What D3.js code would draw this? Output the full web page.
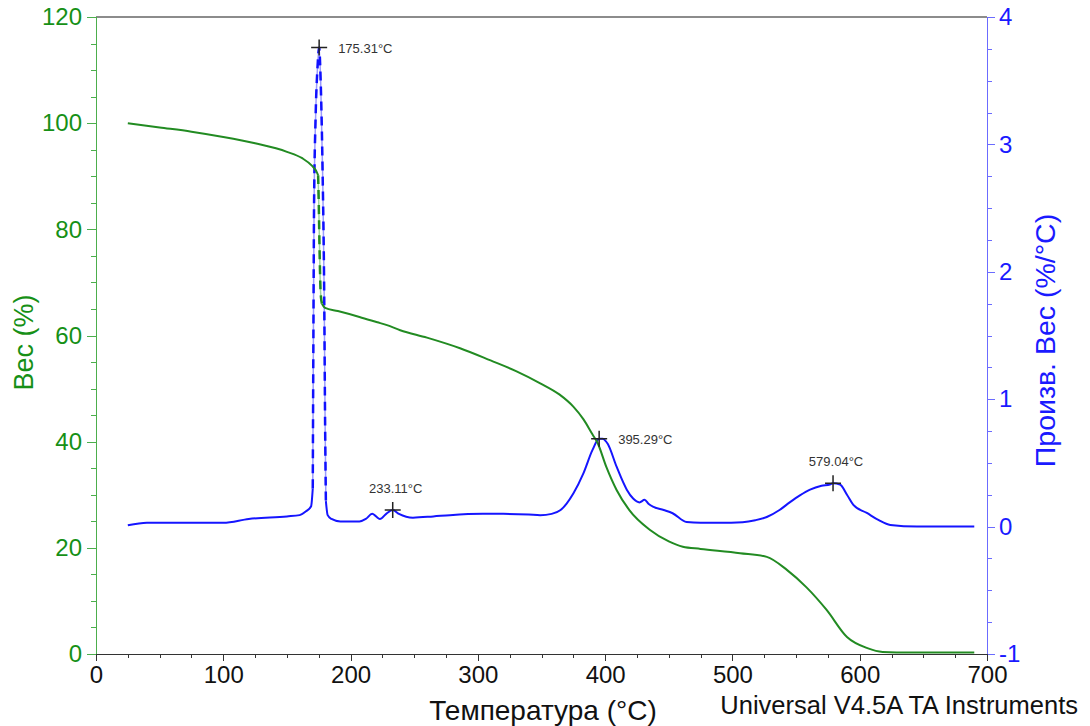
<!DOCTYPE html>
<meta charset="utf-8">
<style>
body { margin: 0; background: #fff; }
svg text { font-family: "Liberation Sans", Arial, sans-serif; }
.axis path, .axis line { fill: none; shape-rendering: crispEdges; }
.x.axis path, .x.axis line { stroke: #333; }
.yl.axis path, .yl.axis line { stroke: #4cae4c; }
.yr.axis path, .yr.axis line { stroke: #6b6bff; }
.x.axis text { fill: #111; font-size: 24px; }
.yl.axis text { fill: #169016; font-size: 24px; }
.yr.axis text { fill: #1a1aff; font-size: 24px; }
.peak text { font-size: 13px; fill: #333; }
</style>
<body>
<script src="https://d3js.org/d3.v7.min.js"></script>
<script>

// TGA curve (weight %)
var tgaTemp = [25, 50, 75, 100, 125, 150, 162, 170, 173, 174.5, 175, 175.5, 176, 176.5, 177.5, 180, 190, 207, 221, 228, 239, 260, 286, 310, 330, 349, 364, 375, 383, 390, 394, 401, 409, 419, 435, 450, 461, 475, 506, 527, 543, 558, 574, 590, 606, 618, 640, 690];
var tgaWeight = [100, 99.2, 98.4, 97.4, 96.2, 94.6, 93.4, 91.9, 91.0, 90.2, 85, 78, 72, 68, 66, 65.2, 64.6, 63.5, 62.5, 62, 61, 59.6, 57.6, 55.3, 53.3, 51.0, 48.9, 46.6, 44.2, 41.4, 39.8, 35.2, 30.9, 27.1, 23.4, 21.2, 20.2, 19.8, 19.0, 18.3, 15.8, 12.6, 8.3, 3.2, 1.1, 0.4, 0.3, 0.3];

// DTG curve (derivative weight %/°C)
var dtgTemp = [25, 40, 60, 100, 120, 150, 160, 165, 169, 170.3, 170.8, 171.3, 172.5, 174, 175.31, 176.5, 178, 179.3, 180, 180.6, 182, 185, 192, 207, 212, 217, 220, 223, 228, 233.11, 238, 249, 265, 278, 304, 320, 340, 349, 358, 365, 375, 383, 390, 395.29, 398, 402, 409, 417, 422, 427, 431, 434, 438, 446, 453, 464, 475, 490, 508, 518, 527, 537, 545, 553, 561, 570, 576.6, 579.04, 584.5, 590, 595, 605.6, 615, 624, 645, 690];
var dtgDeriv = [0.01, 0.03, 0.03, 0.03, 0.06, 0.08, 0.09, 0.12, 0.16, 0.3, 1.5, 2.5, 3.2, 3.6, 3.76, 3.5, 2.8, 1.8, 0.8, 0.2, 0.09, 0.06, 0.04, 0.04, 0.06, 0.1, 0.08, 0.06, 0.1, 0.13, 0.1, 0.07, 0.08, 0.09, 0.1, 0.1, 0.095, 0.09, 0.1, 0.13, 0.26, 0.42, 0.6, 0.69, 0.69, 0.65, 0.47, 0.29, 0.22, 0.19, 0.21, 0.18, 0.155, 0.13, 0.105, 0.036, 0.03, 0.03, 0.035, 0.05, 0.075, 0.13, 0.19, 0.245, 0.29, 0.32, 0.33, 0.34, 0.33, 0.25, 0.17, 0.107, 0.05, 0.013, 0.0, 0.0];

// peak markers
var peakTemps = [175.31, 233.11, 395.29, 579.04];
var peakValues = [3.76, 0.13, 0.69, 0.34];
var peakLabels = ["175.31°C", "233.11°C", "395.29°C", "579.04°C"];
var peakPlace = ["right", "above", "right", "above"];

var xTicks = [0, 100, 200, 300, 400, 500, 600, 700];
var ylTicks = [0, 20, 40, 60, 80, 100, 120];
var yrTicks = [-1, 0, 1, 2, 3, 4];

var margin = {top: 17, right: 103, bottom: 72, left: 96},
    width = 1090 - margin.left - margin.right,
    height = 726 - margin.top - margin.bottom;

var svg = d3.select("body").append("svg")
    .attr("width", 1090)
    .attr("height", 726);
var chart = svg.append("g")
    .attr("transform", "translate(" + margin.left + "," + margin.top + ")");

var x = d3.scaleLinear().domain([0, 700]).range([0, width]);
var yL = d3.scaleLinear().domain([0, 120]).range([height, 0]);
var yR = d3.scaleLinear().domain([-1, 4]).range([height, 0]);

// top frame line
chart.append("line")
    .attr("x1", 0).attr("x2", width)
    .attr("y1", 0).attr("y2", 0)
    .attr("stroke", "#666").attr("stroke-width", 1.5);

// minor ticks
chart.append("g").attr("class", "x axis")
    .attr("transform", "translate(0," + height + ")")
    .call(d3.axisBottom(x).tickValues(d3.range(0, 701, 25)).tickSize(4).tickFormat(""));
chart.append("g").attr("class", "yl axis")
    .call(d3.axisLeft(yL).tickValues(d3.range(0, 121, 5)).tickSize(5).tickFormat(""));
chart.append("g").attr("class", "yr axis")
    .attr("transform", "translate(" + width + ",0)")
    .call(d3.axisRight(yR).tickValues(d3.range(-1, 4.01, 0.25)).tickSize(5).tickFormat(""));

// major ticks
var fmt = function(d) { return String(d); };
chart.append("g").attr("class", "yl axis")
    .call(d3.axisLeft(yL).tickValues(ylTicks).tickSize(9).tickPadding(5).tickFormat(fmt));
chart.append("g").attr("class", "yr axis")
    .attr("transform", "translate(" + width + ",0)")
    .call(d3.axisRight(yR).tickValues(yrTicks).tickSize(8).tickPadding(4).tickFormat(fmt));
chart.append("g").attr("class", "x axis")
    .attr("transform", "translate(0," + height + ")")
    .call(d3.axisBottom(x).tickValues(xTicks).tickSize(7).tickPadding(5).tickFormat(fmt));

chart.selectAll(".axis path").attr("stroke-width", 1.5);

// curves
var tga = tgaTemp.map(function(t, i) { return [t, tgaWeight[i]]; });
var dtg = dtgTemp.map(function(t, i) { return [t, dtgDeriv[i]]; });

var lineL = d3.line().x(function(d) { return x(d[0]); }).y(function(d) { return yL(d[1]); }).curve(d3.curveMonotoneX);
var lineR = d3.line().x(function(d) { return x(d[0]); }).y(function(d) { return yR(d[1]); }).curve(d3.curveMonotoneX);

// DTG, with the steep spike drawn dashed
var dtgA = dtg.filter(function(d) { return d[0] <= 170.3; });
var dtgS = dtg.filter(function(d) { return d[0] >= 170.3 && d[0] <= 180.6; });
var dtgB = dtg.filter(function(d) { return d[0] >= 180.6; });

chart.append("path").datum(dtgA).attr("d", lineR)
    .attr("fill", "none").attr("stroke", "#1515ff").attr("stroke-width", 2);
chart.append("path").datum(dtgB).attr("d", lineR)
    .attr("fill", "none").attr("stroke", "#1515ff").attr("stroke-width", 2);
chart.append("path").datum(dtgS).attr("d", lineR)
    .attr("fill", "none").attr("stroke", "#9a9aff").attr("stroke-width", 1.5);
chart.append("path").datum(dtgS).attr("d", lineR)
    .attr("fill", "none").attr("stroke", "#1010ff").attr("stroke-width", 2.5)
    .attr("stroke-dasharray", "9,6");

// TGA
var tgaA = tga.filter(function(d) { return d[0] <= 174.5; });
var tgaS = tga.filter(function(d) { return d[0] >= 174.5 && d[0] <= 177.5; });
var tgaB = tga.filter(function(d) { return d[0] >= 177.5; });
[tgaA, tgaB].forEach(function(seg) {
  chart.append("path").datum(seg).attr("d", lineL)
      .attr("fill", "none").attr("stroke", "#228b22").attr("stroke-width", 2);
});
chart.append("path").datum(tgaS).attr("d", lineL)
    .attr("fill", "none").attr("stroke", "#9fd49f").attr("stroke-width", 1.5);
chart.append("path").datum(tgaS).attr("d", lineL)
    .attr("fill", "none").attr("stroke", "#228b22").attr("stroke-width", 2.5)
    .attr("stroke-dasharray", "9,6");

// peak markers
var peaks = chart.selectAll(".peak")
    .data(peakTemps.map(function(t, i) { return {t: t, v: peakValues[i], label: peakLabels[i], place: peakPlace[i]}; }))
  .enter().append("g")
    .attr("class", "peak")
    .attr("transform", function(d) { return "translate(" + x(d.t) + "," + yR(d.v) + ")"; });

peaks.append("path")
    .attr("d", "M-8,0H8M0,-8V8")
    .attr("stroke", "#222").attr("stroke-width", 1.5);

peaks.append("text")
    .attr("x", function(d) { return d.place == "right" ? 19 : 3; })
    .attr("y", function(d) { return d.place == "right" ? 5 : -17; })
    .attr("text-anchor", function(d) { return d.place == "right" ? "start" : "middle"; })
    .text(function(d) { return d.label; });

// axis titles
svg.append("text")
    .attr("transform", "translate(33," + (margin.top + height / 2 + 7) + ") rotate(-90)")
    .attr("text-anchor", "middle")
    .attr("fill", "#169016")
    .style("font-size", "27px")
    .text("Вес (%)");

svg.append("text")
    .attr("transform", "translate(1055," + (margin.top + height / 2 + 5) + ") rotate(-90)")
    .attr("text-anchor", "middle")
    .attr("fill", "#1a1aff")
    .style("font-size", "28.5px")
    .text("Произв. Вес (%/°C)");

svg.append("text")
    .attr("x", 543).attr("y", 720)
    .attr("text-anchor", "middle")
    .attr("fill", "#111")
    .style("font-size", "28px")
    .text("Температура (°C)");

svg.append("text")
    .attr("x", 1078).attr("y", 714)
    .attr("text-anchor", "end")
    .attr("fill", "#111")
    .style("font-size", "25.5px")
    .text("Universal V4.5A TA Instruments");

</script>
</body>
